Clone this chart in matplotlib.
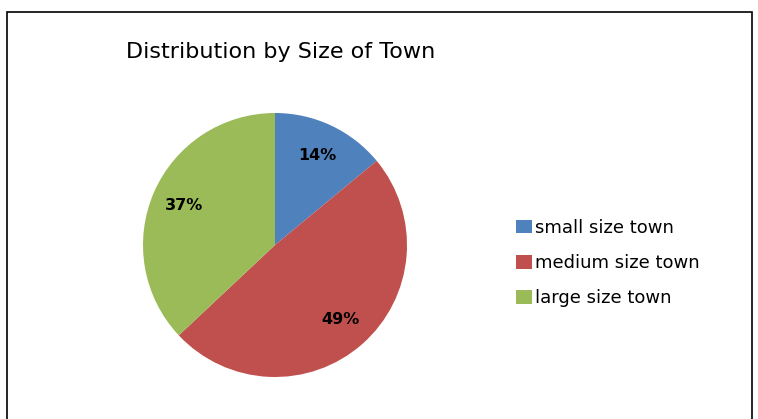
import matplotlib.pyplot as plt
from matplotlib.patches import Rectangle

labels = ['small size town', 'medium size town', 'large size town']
shares = [14, 49, 37]
colors = ['#4F81BD', '#C0504D', '#9BBB59']

plt.rcParams['font.family'] = ['DejaVu Sans']

fig = plt.figure(figsize=(7.58, 4.19), dpi=100)

# outer frame of the chart area
fig.patches.append(Rectangle((7 / 758, -0.05), 745 / 758, 1.05 - 12 / 419,
                             transform=fig.transFigure, fill=False,
                             edgecolor='black', linewidth=1.2))

ax = fig.add_axes([143 / 758, 42 / 419, 264 / 758, 264 / 419])
wedges, texts, autotexts = ax.pie(shares, colors=colors, startangle=90,
                                  counterclock=False, autopct='%d%%',
                                  pctdistance=0.75,
                                  textprops={'fontsize': 11.5, 'fontweight': 'bold'},
                                  wedgeprops={'linewidth': 0})
ax.set_xlim(-1, 1)
ax.set_ylim(-1, 1)
ax.set_aspect('equal')

fig.text(126 / 758, 1 - 52 / 419, 'Distribution by Size of Town',
         fontsize=16, va='center', ha='left')

fig.legend(wedges, labels, loc='center left',
           bbox_to_anchor=(509 / 758, 1 - 263 / 419),
           frameon=False, fontsize=13, handlelength=0.85, handleheight=0.8,
           handletextpad=0.2, labelspacing=0.95, borderaxespad=0)

fig.savefig('out.png', dpi=100)
